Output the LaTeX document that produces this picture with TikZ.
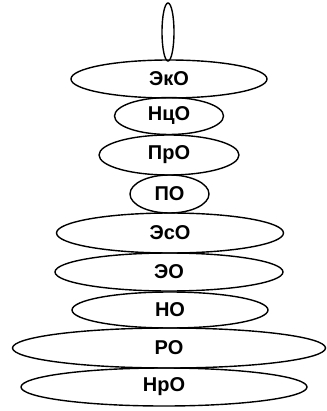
\documentclass[tikz,border=0pt]{standalone}
\usepackage{fontspec}
\setmainfont{Liberation Sans}
\usetikzlibrary{shapes.geometric}

\begin{document}
\begin{tikzpicture}[x=1pt,y=-1pt,
  layer/.style={draw,ellipse,line width=1.4pt,inner sep=0pt,font=\fontsize{20}{24}\selectfont\bfseries}]
\useasboundingbox (0,0) rectangle (326,411);
\node[layer,minimum width=12,minimum height=58] (tip) at (168,32) {};
\node[layer,minimum width=196,minimum height=38] (eko) at (169,79) {ЭкО};
\node[layer,minimum width=109,minimum height=37] (nco) at (169,116) {НцО};
\node[layer,minimum width=140,minimum height=40] (pro) at (169,155) {ПрО};
\node[layer,minimum width=79,minimum height=38] (po) at (169.5,194) {ПО};
\node[layer,minimum width=227,minimum height=40] (eso) at (170,233) {ЭсО};
\node[layer,minimum width=228,minimum height=38] (eo) at (169,272) {ЭО};
\node[layer,minimum width=196,minimum height=36] (no) at (170,310) {НО};
\node[layer,minimum width=313,minimum height=40] (ro) at (169,348) {РО};
\node[layer,minimum width=286,minimum height=38] (nro) at (164,387) {НрО};
\end{tikzpicture}
\end{document}
